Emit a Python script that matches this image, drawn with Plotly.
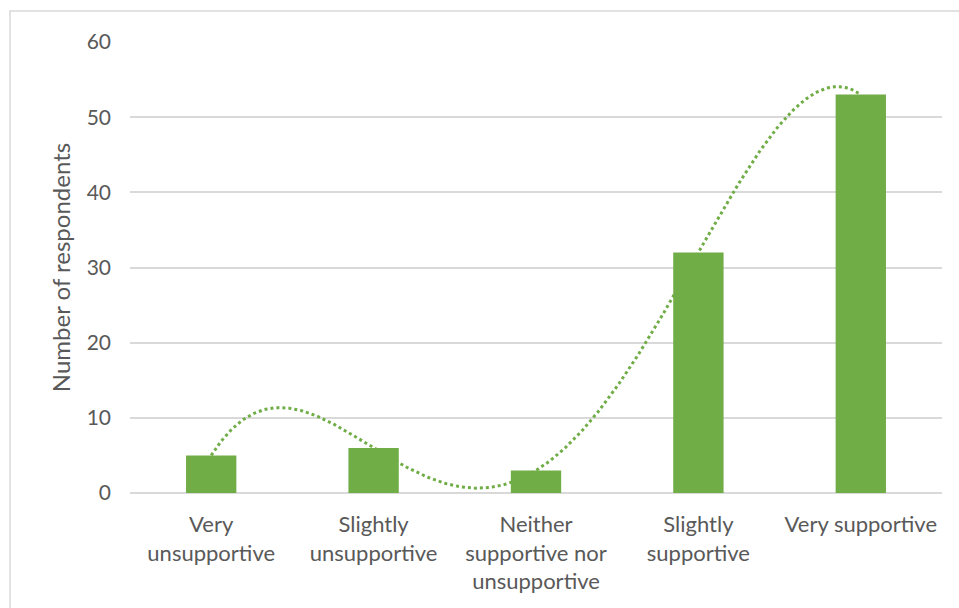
import numpy as np
import plotly.graph_objects as go

categories = ["Very<br>unsupportive", "Slightly<br>unsupportive",
              "Neither<br>supportive nor<br>unsupportive", "Slightly<br>supportive",
              "Very supportive"]
respondents = [5, 6, 3, 32, 53]
y_ticks = [0, 10, 20, 30, 40, 50, 60]
trend_order = 4  # polynomial trendline order (as in the source chart)

GREEN = "#70ad47"
TXT = "#595959"
FONT = "Lato"

W, H = 959, 608
ML, MR, MT, MB = 130, 17, 42, 115

xpos = np.arange(len(categories))
coef = np.polyfit(xpos, respondents, trend_order)
xt = np.linspace(xpos[0], xpos[-1], 300)
yt = np.polyval(coef, xt)

fig = go.Figure()
fig.add_trace(go.Bar(x=xpos, y=respondents, marker_color=GREEN,
                     marker_line_width=0, showlegend=False, width=0.31))
fig.add_trace(go.Scatter(x=xt, y=yt, mode="lines",
                         line=dict(color=GREEN, width=3, dash="dot"),
                         showlegend=False, hoverinfo="skip"))

pw, ph = W - ML - MR, H - MT - MB
fig.add_shape(type="rect", xref="paper", yref="paper",
              x0=(10 - ML) / pw, x1=1 + (MR + 20) / pw,
              y0=-(MB + 20) / ph, y1=1 + (MT - 11) / ph,
              line=dict(color="#d9d9d9", width=1.5), fillcolor="rgba(0,0,0,0)",
              layer="below")

fig.update_layout(
    width=W, height=H,
    margin=dict(l=ML, r=MR, t=MT, b=MB),
    paper_bgcolor="white", plot_bgcolor="white",
    font=dict(family=FONT, size=20, color=TXT),
    xaxis=dict(range=[-0.5, len(categories) - 0.5], tickvals=list(xpos),
               ticktext=categories, showgrid=False, showline=False,
               zeroline=False, ticks="", ticklabelstandoff=16,
               tickfont=dict(family=FONT, size=22, color=TXT), tickangle=0,
               fixedrange=True),
    yaxis=dict(range=[0, 60], tickvals=y_ticks, showgrid=True,
               gridcolor="#d9d9d9", gridwidth=1.5, zeroline=True,
               zerolinecolor="#d9d9d9", zerolinewidth=1.5, showline=False,
               ticks="", ticklabelstandoff=18,
               tickfont=dict(family=FONT, size=21, color=TXT),
               title=dict(text="Number of respondents", standoff=9,
                          font=dict(family=FONT, size=24, color=TXT))),
)

fig.write_html("out.html")
